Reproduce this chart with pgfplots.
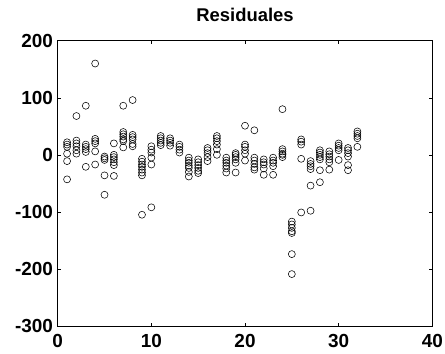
\documentclass[border=0pt]{standalone}
\usepackage{pgfplots}
\pgfplotsset{compat=1.18}
\usepackage{fontspec}
\setmainfont{Liberation Sans}
\begin{document}
\begin{tikzpicture}[x=1bp,y=1bp]
\begin{axis}[
  name=ax,
  at={(0,0)}, anchor=south west,
  scale only axis,
  width=374.6bp, height=285.3bp,
  xmin=0, xmax=40, ymin=-300, ymax=200,
  xtick={0,10,20,30,40},
  ytick={-300,-200,-100,0,100,200},
  tick align=inside,
  major tick length=3.5bp,
  tick style={black, line width=0.5pt},
  axis line style={black, line width=0.6pt},
  /pgf/number format/assume math mode=true,
  ticklabel style={font=\bfseries\fontsize{19}{19}\selectfont},
  xticklabel style={anchor=north, inner sep=0pt, yshift=-8bp},
  yticklabel style={anchor=east, inner sep=0pt, xshift=-4.5bp},
  title={Residuales},
  title style={font=\bfseries\fontsize{18.5}{18.5}\selectfont, at={(0.5,1)}, anchor=base, inner sep=0pt, yshift=13.5bp},
  clip=false,
]
\addplot[only marks, mark=o, mark size=3.5bp, mark options={black, line width=0.55pt}] table {
x y
1 22
1 18
1 14
1 2
1 -11
1 -43
2 68
2 25
2 20
2 15
2 8
2 2
3 86
3 18
3 14
3 10
3 5
3 -21
4 160
4 28
4 24
4 20
4 6
4 -17
5 -3
5 -6
5 -9
5 -36
5 -70
6 20
6 0
6 -4
6 -8
6 -13
6 -18
6 -37
7 86
7 40
7 36
7 32
7 27
7 24
7 13
8 96
8 35
8 31
8 27
8 19
8 15
9 -7
9 -12
9 -17
9 -21
9 -26
9 -31
9 -36
9 -105
10 15
10 9
10 4
10 -5
10 -17
10 -92
11 33
11 29
11 25
11 21
11 17
12 29
12 25
12 21
12 16
13 18
13 14
13 9
13 4
14 -5
14 -10
14 -14
14 -19
14 -23
14 -30
14 -38
15 -8
15 -13
15 -18
15 -23
15 -28
15 -32
16 12
16 8
16 3
16 -4
16 -11
17 33
17 29
17 24
17 18
17 10
17 0
18 -5
18 -10
18 -14
18 -19
18 -24
18 -31
19 3
19 0
19 -4
19 -8
19 -14
19 -31
20 51
20 18
20 14
20 8
20 2
20 -10
21 43
21 -5
21 -10
21 -16
21 -22
21 -26
22 -8
22 -13
22 -17
22 -24
22 -35
23 -5
23 -10
23 -14
23 -20
23 -35
24 80
24 10
24 6
24 2
24 0
24 -4
25 -117
25 -122
25 -128
25 -134
25 -137
25 -174
25 -209
26 27
26 23
26 18
26 -7
26 -101
27 -11
27 -16
27 -20
27 -25
27 -54
27 -98
28 8
28 4
28 0
28 -4
28 -8
28 -27
28 -48
29 6
29 1
29 -3
29 -8
29 -13
29 -26
30 20
30 16
30 12
30 8
30 -9
31 12
31 8
31 3
31 -3
31 -18
31 -27
32 41
32 37
32 33
32 29
32 14
};
\end{axis}
\path (-57.7,-27) rectangle (387.3,326);
\end{tikzpicture}
\end{document}
